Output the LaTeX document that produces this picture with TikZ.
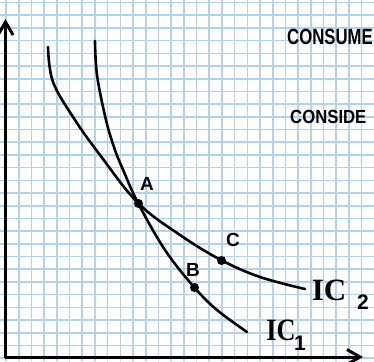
\documentclass[tikz,border=0pt]{standalone}
\usepackage{fontspec}
\setmainfont{Liberation Sans}
\newfontfamily\icfont{Liberation Serif}
\usetikzlibrary{arrows.meta}
\definecolor{gridblue}{RGB}{178,212,234}
\tikzset{
  gridline/.style={draw=gridblue, line width=1.6pt},
  axisline/.style={line width=3pt, line cap=round, line join=round, {Straight Barb[length=13pt,width=15pt,line width=3pt]}-{Straight Barb[length=13pt,width=15pt,line width=3pt]}},
  curve/.style={line width=2.6pt, line cap=round},
  pt/.style={circle, fill=black, inner sep=0pt, minimum size=9pt},
  lbl/.style={inner sep=0pt, font=\fontsize{19}{19}\selectfont\bfseries},
  handtxt/.style={inner sep=0pt, anchor=west},
  iclbl/.style={inner sep=0pt, font=\icfont\fontsize{31}{31}\selectfont\bfseries},
  sublbl/.style={inner sep=0pt, font=\fontsize{21}{21}\selectfont\bfseries}
}
\begin{document}
\begin{tikzpicture}[x=1pt,y=-1pt]
\fill[white] (0,0) rectangle (374,361);
\useasboundingbox (0,0) rectangle (374,361);
\begin{scope}
\clip (0,0) rectangle (374,361);
\foreach \i in {0,...,29} \draw[gridline] ({6+12.7*\i},0) -- ({6+12.7*\i},361);
\foreach \i in {0,...,28} \draw[gridline] (0,{2.5+12.7*\i}) -- (374,{2.5+12.7*\i});
\end{scope}
\node[handtxt] (t1) at (287,37) {\scalebox{0.76}[1]{\fontsize{22}{22}\selectfont\bfseries CONSUME}};
\node[handtxt] (t2) at (290,117) {\scalebox{0.88}[1]{\fontsize{19}{19}\selectfont\bfseries CONSIDE}};
% axes
\coordinate (ytip) at (5.5,19);
\coordinate (orig) at (5.5,357);
\coordinate (xtip) at (363,357);
\draw[axisline] (ytip) -- (orig) -- (xtip);
% curves
\draw[curve] plot[smooth, tension=0.6] coordinates {(95,41) (97,75) (106,120) (115,150) (124,172) (138,203) (165,250) (194,287) (217,310) (247,332)};
\draw[curve] plot[smooth, tension=0.6] coordinates {(48,47) (53,82) (75,120) (100,155) (138,203) (180,235) (221,260) (260,277) (305,289)};
% points
\node[pt] (A) at (138.5,203.5) {};
\node[pt] (C) at (221.5,260.5) {};
\node[pt] (B) at (194.5,287.5) {};
\node[lbl] (lA) at (147,184) {A};
\node[lbl] (lB) at (193,270) {B};
\node[lbl] (lC) at (233,240) {C};
% curve labels
\node[iclbl] (ic2) at (329,290) {IC};
\node[sublbl] (ic2s) at (363,302) {2};
\node[iclbl, xscale=0.85] (ic1) at (281,330) {IC};
\node[sublbl] (ic1s) at (300,343) {1};
\end{tikzpicture}
\end{document}
